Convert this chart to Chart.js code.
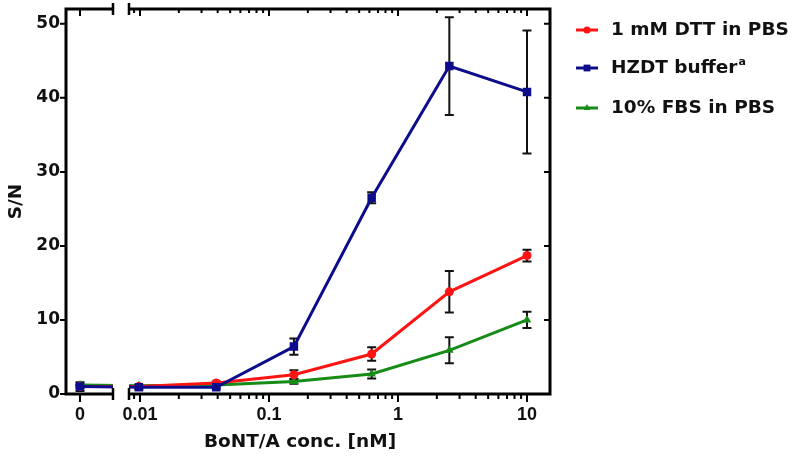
<!DOCTYPE html>
<html>
<head>
<meta charset="utf-8">
<script src="https://cdn.jsdelivr.net/npm/chart.js@4"></script>
<style>
  html, body { margin: 0; padding: 0; background: #fff; }
  #wrap { width: 800px; height: 463px; }
</style>
</head>
<body>
<div id="wrap"><canvas id="chart"></canvas></div>
<script>
// BoNT/A concentration in nM (4-fold dilutions), 0 = blank
const conc = [0, 0.0098, 0.039, 0.156, 0.625, 2.5, 10];

const dttMean = [1.0, 1.0, 1.5, 2.6, 5.4, 13.8, 18.7];
const dttErr  = [0.2, 0.1, 0.2, 0.6, 0.9, 2.8, 0.8];
const hzdtMean = [1.0, 0.9, 0.9, 6.4, 26.5, 44.3, 40.8];
const hzdtErr  = [0.6, 0.3, 0.2, 1.1, 0.75, 6.6, 8.3];
const fbsMean = [1.2, 1.1, 1.2, 1.7, 2.7, 5.9, 10.0];
const fbsErr  = [0.1, 0.1, 0.1, 0.3, 0.6, 1.75, 1.1];

const seriesNames = ['1 mM DTT in PBS', 'HZDT buffer', '10% FBS in PBS'];
const xTickValues = [0, 0.01, 0.1, 1, 10];
const xTickLabels = ['0', '0.01', '0.1', '1', '10'];
const yTickValues = [0, 10, 20, 30, 40, 50];

// x axis is log10 of concentration, with the zero point parked left of a break
const X_MIN = -2.5736, X_MAX = 1.1783;
const ZERO_POS = -2.4651;
const BREAK_L = -2.2093, BREAK_R = -2.0853;

function xPos(c) {
    return c === 0 ? ZERO_POS : Math.log10(c);
}

const RED = '#ff1414', BLUE = '#0d0d8c', GREEN = '#168c16';
const WIDE = '"DejaVu Sans", sans-serif';

const series = [
    { name: seriesNames[0], mean: dttMean, err: dttErr, color: RED, style: 'circle', r: 4.5 },
    { name: seriesNames[1], mean: hzdtMean, err: hzdtErr, color: BLUE, style: 'rect', r: 6 },
    { name: seriesNames[2], mean: fbsMean, err: fbsErr, color: GREEN, style: 'triangle', r: 5 }
];
const drawOrder = [1, 0, 2];

// minor ticks on the log part of the axis
const minorTicks = [];
for (let d = -3; d <= 1; d++) {
    for (let k = 2; k <= 9; k++) {
        const v = Math.log10(k * Math.pow(10, d));
        if (v > BREAK_R && v < X_MAX) minorTicks.push(v);
    }
}

function marker(ctx, style, x, y, r) {
    ctx.beginPath();
    if (style === 'circle') {
        ctx.arc(x, y, r, 0, Math.PI * 2);
    } else if (style === 'rect') {
        const s = r * Math.SQRT1_2;
        ctx.rect(x - s, y - s, 2 * s, 2 * s);
    } else {
        ctx.moveTo(x, y - r);
        ctx.lineTo(x + r * 0.866, y + r * 0.5);
        ctx.lineTo(x - r * 0.866, y + r * 0.5);
        ctx.closePath();
    }
    ctx.fill();
}

const framePlugin = {
    id: 'frame',
    beforeDatasetsDraw(chart) {
        const { ctx, scales: { x, y } } = chart;
        // error bars go under the symbols
        ctx.save();
        ctx.strokeStyle = '#111';
        ctx.lineWidth = 2;
        series.forEach(s => {
            s.mean.forEach((m, i) => {
                const px = x.getPixelForValue(xPos(conc[i]));
                const t = y.getPixelForValue(m + s.err[i]);
                const b = y.getPixelForValue(m - s.err[i]);
                ctx.beginPath();
                ctx.moveTo(px, t); ctx.lineTo(px, b);
                ctx.moveTo(px - 4.5, t); ctx.lineTo(px + 4.5, t);
                ctx.moveTo(px - 4.5, b); ctx.lineTo(px + 4.5, b);
                ctx.stroke();
            });
        });
        ctx.restore();

        // hide the lines inside the axis break
        const gl = x.getPixelForValue(BREAK_L), gr = x.getPixelForValue(BREAK_R);
        ctx.save();
        ctx.beginPath();
        ctx.rect(0, 0, gl, chart.height);
        ctx.rect(gr, 0, chart.width - gr, chart.height);
        ctx.clip();
    },
    afterDatasetsDraw(chart) {
        chart.ctx.restore();
    },
    afterDraw(chart) {
        const { ctx, chartArea: a, scales: { x, y } } = chart;
        const gl = x.getPixelForValue(BREAK_L), gr = x.getPixelForValue(BREAK_R);
        ctx.save();
        ctx.strokeStyle = '#000';
        ctx.lineJoin = 'miter';

        // frame, split at the break
        ctx.lineWidth = 3;
        ctx.beginPath();
        ctx.moveTo(gl, a.top); ctx.lineTo(a.left, a.top);
        ctx.lineTo(a.left, a.bottom); ctx.lineTo(gl, a.bottom);
        ctx.stroke();
        ctx.beginPath();
        ctx.moveTo(gr, a.top); ctx.lineTo(a.right, a.top);
        ctx.lineTo(a.right, a.bottom); ctx.lineTo(gr, a.bottom);
        ctx.stroke();

        ctx.lineWidth = 2.5;
        ctx.beginPath();
        [gl, gr].forEach(px => {
            ctx.moveTo(px, a.top - 6); ctx.lineTo(px, a.top + 6);
            ctx.moveTo(px, a.bottom - 6); ctx.lineTo(px, a.bottom + 6);
        });
        ctx.stroke();

        // x ticks: long outside at bottom, short inside at top
        ctx.lineWidth = 2;
        ctx.beginPath();
        xTickValues.forEach(v => {
            const px = x.getPixelForValue(xPos(v));
            ctx.moveTo(px, a.bottom); ctx.lineTo(px, a.bottom + 8);
            ctx.moveTo(px, a.top); ctx.lineTo(px, a.top + 7);
        });
        minorTicks.forEach(v => {
            const px = x.getPixelForValue(v);
            ctx.moveTo(px, a.bottom); ctx.lineTo(px, a.bottom + 5);
            ctx.moveTo(px, a.top); ctx.lineTo(px, a.top + 4);
        });
        // y ticks on both sides
        yTickValues.forEach(v => {
            const py = y.getPixelForValue(v);
            ctx.moveTo(a.left - 6, py); ctx.lineTo(a.left, py);
            ctx.moveTo(a.right - 6, py); ctx.lineTo(a.right, py);
        });
        ctx.stroke();

        // x axis title
        ctx.fillStyle = '#111';
        ctx.font = 'bold 18.5px ' + WIDE;
        ctx.textAlign = 'center';
        ctx.textBaseline = 'middle';
        ctx.fillText('BoNT/A conc. [nM]', 300, 442);

        // legend
        const rows = [30, 68, 108];
        series.forEach((s, i) => {
            const ry = rows[i];
            ctx.strokeStyle = s.color;
            ctx.fillStyle = s.color;
            ctx.lineWidth = 3;
            ctx.beginPath();
            ctx.moveTo(576, ry); ctx.lineTo(598, ry);
            ctx.stroke();
            marker(ctx, s.style, 587, ry, s.r * 0.8);
            ctx.fillStyle = '#111';
            ctx.font = 'bold 18.5px ' + WIDE;
            ctx.textAlign = 'left';
            ctx.textBaseline = 'middle';
            ctx.fillText(s.name, 611, ry);
            if (i === 1) {
                const w = ctx.measureText(s.name).width;
                ctx.font = 'bold 11px ' + WIDE;
                ctx.fillText('a', 611 + w + 1, ry - 6);
            }
        });
        ctx.restore();
    }
};

new Chart(document.getElementById('chart'), {
    type: 'line',
    data: {
        datasets: drawOrder.map(k => {
            const s = series[k];
            return {
                label: s.name,
                data: conc.map((c, i) => ({ x: xPos(c), y: s.mean[i] })),
                borderColor: s.color,
                backgroundColor: s.color,
                borderWidth: 3,
                pointStyle: s.style,
                pointRadius: s.r,
                pointBorderWidth: 0,
                tension: 0
            };
        })
    },
    options: {
        responsive: true,
        maintainAspectRatio: false,
        animation: false,
        layout: { padding: { top: 9, right: 250, bottom: 0, left: 0 } },
        plugins: { legend: { display: false }, tooltip: { enabled: false } },
        scales: {
            x: {
                type: 'linear',
                min: X_MIN,
                max: X_MAX,
                grid: { display: false, drawTicks: false },
                border: { display: false },
                afterBuildTicks: sc => { sc.ticks = xTickValues.map(v => ({ value: xPos(v) })); },
                afterFit: sc => { sc.height = 69; sc.paddingLeft = 0; sc.paddingRight = 0; },
                ticks: {
                    autoSkip: false,
                    maxRotation: 0,
                    padding: 10,
                    color: '#111',
                    font: { family: '"Liberation Sans", Arial, sans-serif', size: 18, weight: 'bold' },
                    callback: (val, i) => xTickLabels[i]
                }
            },
            y: {
                min: 0,
                max: 52,
                grid: { display: false, drawTicks: false },
                border: { display: false },
                afterBuildTicks: sc => { sc.ticks = yTickValues.map(v => ({ value: v })); },
                afterFit: sc => { sc.width = 66; sc.paddingTop = 0; sc.paddingBottom = 0; },
                ticks: {
                    padding: 6,
                    color: '#111',
                    font: { family: WIDE, size: 17, weight: 'bold' }
                },
                title: {
                    display: true,
                    text: 'S/N',
                    color: '#111',
                    padding: { top: 5, bottom: 0 },
                    font: { family: WIDE, size: 18.5, weight: 'bold' }
                }
            }
        }
    },
    plugins: [framePlugin]
});
</script>
</body>
</html>
